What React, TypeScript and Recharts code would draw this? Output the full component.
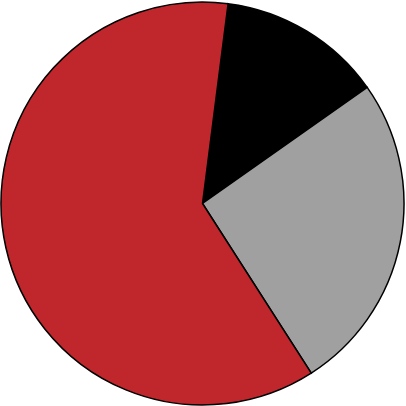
import { Cell, Pie, PieChart } from 'recharts'

const LABELS = ['Black', 'Gray', 'Red']
const VALUES = [13.2, 25.7, 61.1]
const COLORS = ['#000000', '#a0a0a0', '#c0272d']

const data = LABELS.map((name, i) => ({ name, value: VALUES[i] }))

export default function App() {
  return (
    <div style={{ position: 'absolute', left: 0, top: 0, width: 406, height: 406, background: '#fff' }}>
      <PieChart width={406} height={406} margin={{ top: 0, right: 0, bottom: 0, left: 0 }}>
        <Pie
          data={data}
          dataKey="value"
          cx={202.5}
          cy={203.5}
          outerRadius={201.5}
          startAngle={82.7}
          endAngle={82.7 - 360}
          stroke="#000"
          strokeWidth={1.5}
          isAnimationActive={false}
        >
          {data.map((d, i) => (
            <Cell key={d.name} fill={COLORS[i]} />
          ))}
        </Pie>
      </PieChart>
    </div>
  )
}
